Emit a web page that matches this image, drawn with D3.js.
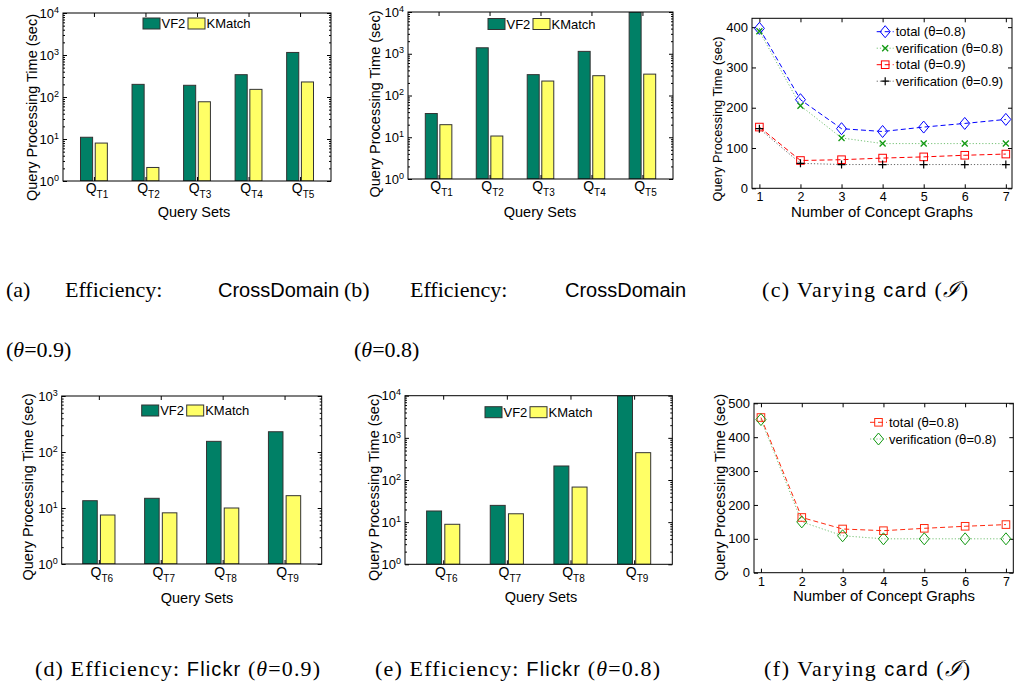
<!DOCTYPE html>
<html>
<head>
<meta charset="utf-8">
<script src="https://cdn.jsdelivr.net/npm/d3@7"></script>
<style>
body { margin: 0; background: #fff; }
svg text { font-family: "Liberation Sans", Arial, sans-serif; }
.cap { font-family: "Liberation Serif", "DejaVu Serif", serif; font-size: 22px; }
.sf { font-family: "Liberation Sans", Arial, sans-serif; }
</style>
</head>
<body>
<svg width="1017" height="693"></svg>
<script>
// bar charts (log scale, seconds)
var barSeries = ['VF2', 'KMatch'];
var barColors = ['#008066', '#ffff66'];
var crossCats = ['T1', 'T2', 'T3', 'T4', 'T5'];
var flickrCats = ['T6', 'T7', 'T8', 'T9'];
var vf2A = [11, 200, 190, 340, 1150];
var kmA  = [8, 2.1, 77, 152, 228];
var vf2B = [37, 1390, 316, 1140, 10000];
var kmB  = [20, 10.7, 222, 298, 325];
var vf2D = [13.5, 14.9, 155, 230];
var kmD  = [7.5, 8.2, 10, 16.6];
var vf2E = [18.4, 25, 215, 10000];
var kmE  = [8.9, 15.8, 68, 445];

// line charts (seconds vs number of concept graphs)
var graphs = [1, 2, 3, 4, 5, 6, 7];
var total08C = [397, 220, 148, 141, 152, 161, 171];
var verif08C = [390, 205, 125, 111, 111, 111, 111];
var total09C = [152, 69, 71, 75, 78, 82, 85];
var verif09C = [148, 62, 59, 59, 59, 59, 59];
var totalF = [458, 163, 129, 124, 131, 137, 142];
var verifF = [452, 150, 109, 100, 100, 100, 100];
var ticksC = [0, 100, 200, 300, 400];
var ticksF = [0, 100, 200, 300, 400, 500];

var svg = d3.select('svg');
var FONT = 'Liberation Sans, Arial, sans-serif';

function styleAxis(g) {
    g.attr('font-size', 13).attr('font-family', FONT);
    g.select('.domain').remove();
}

function frame(o) {
    svg.append('rect')
        .attr('x', o.x0).attr('y', o.y0)
        .attr('width', o.x1 - o.x0).attr('height', o.y1 - o.y0)
        .attr('fill', 'none').attr('stroke', '#000').attr('stroke-width', 1);
}

function yLabel(o, txt) {
    svg.append('text')
        .attr('transform', 'translate(' + o.ylx + ',' + o.yly + ') rotate(-90)')
        .attr('text-anchor', 'middle').attr('dy', '0.35em')
        .attr('font-size', o.ylsize || 14.5)
        .text(txt);
}

function xLabel(o, txt) {
    svg.append('text')
        .attr('x', o.xlx).attr('y', o.xly)
        .attr('text-anchor', 'middle')
        .attr('font-size', o.xlsize || 14.5)
        .text(txt);
}

function logPanel(o) {
    var n = o.cats.length;
    var pos = d3.range(1, n + 1);
    var x = d3.scaleLinear().domain(o.xd).range([o.x0, o.x1]);
    var y = d3.scaleLog().domain(o.yd).range([o.y1, o.y0]);

    var clip = 'clip-' + o.id;
    svg.append('clipPath').attr('id', clip).append('rect')
        .attr('x', o.x0).attr('y', o.y0)
        .attr('width', o.x1 - o.x0).attr('height', o.y1 - o.y0);

    var bw = 0.235, off = 0.143;
    var g = svg.append('g').attr('clip-path', 'url(#' + clip + ')');
    [o.vf2, o.km].forEach(function(vals, s) {
        g.selectAll('rect.s' + s)
            .data(vals)
            .enter()
            .append('rect')
            .attr('class', 's' + s)
            .attr('x', function(d, i) { return x(i + 1 + (s ? off : -off) - bw / 2); })
            .attr('width', x(bw) - x(0))
            .attr('y', function(d) { return y(d); })
            .attr('height', function(d) { return o.y1 - y(d); })
            .attr('fill', barColors[s])
            .attr('stroke', '#333')
            .attr('stroke-width', 1);
    });

    var all = y.ticks();
    var majors = all.filter(function(d) { return Math.abs(Math.log10(d) - Math.round(Math.log10(d))) < 1e-9; });
    var minors = all.filter(function(d) { return majors.indexOf(d) < 0; });

    var left = svg.append('g').attr('transform', 'translate(' + o.x0 + ',0)')
        .call(d3.axisLeft(y).tickValues(majors).tickSize(-4).tickSizeOuter(0).tickPadding(4))
        .call(styleAxis);
    left.selectAll('.tick text').each(function(d) {
        var t = d3.select(this).text('');
        t.append('tspan').text('10');
        t.append('tspan').attr('dy', '-0.55em').attr('font-size', 9).text(Math.round(Math.log10(d)));
    });
    svg.append('g').attr('transform', 'translate(' + o.x0 + ',0)')
        .call(d3.axisLeft(y).tickValues(minors).tickSize(-2).tickSizeOuter(0).tickFormat(''))
        .call(styleAxis);
    svg.append('g').attr('transform', 'translate(' + o.x1 + ',0)')
        .call(d3.axisRight(y).tickValues(majors).tickSize(-4).tickSizeOuter(0).tickFormat(''))
        .call(styleAxis);
    svg.append('g').attr('transform', 'translate(' + o.x1 + ',0)')
        .call(d3.axisRight(y).tickValues(minors).tickSize(-2).tickSizeOuter(0).tickFormat(''))
        .call(styleAxis);
    svg.append('g').attr('transform', 'translate(0,' + o.y1 + ')')
        .call(d3.axisBottom(x).tickValues(pos).tickSize(-4).tickSizeOuter(0).tickFormat(''))
        .call(styleAxis);
    svg.append('g').attr('transform', 'translate(0,' + o.y0 + ')')
        .call(d3.axisTop(x).tickValues(pos).tickSize(-4).tickSizeOuter(0).tickFormat(''))
        .call(styleAxis);

    frame(o);

    var ql = svg.selectAll('text.q' + o.id)
        .data(o.cats)
        .enter()
        .append('text')
        .attr('class', 'q' + o.id)
        .attr('x', function(d, i) { return x(i + 1) + 3; })
        .attr('y', o.y1 + o.qy)
        .attr('text-anchor', 'middle')
        .attr('font-size', 14);
    ql.append('tspan').text('Q');
    ql.append('tspan').attr('font-size', 10).attr('dy', 5).text(function(d) { return d; });

    // legend
    var lx = [o.x0 + 80, o.x0 + 125];
    barSeries.forEach(function(name, s) {
        svg.append('rect')
            .attr('x', lx[s]).attr('y', o.y0 + o.ly - 5.5)
            .attr('width', 17).attr('height', 11)
            .attr('fill', barColors[s]).attr('stroke', '#333');
        svg.append('text')
            .attr('x', lx[s] + 18.5).attr('y', o.y0 + o.ly + 4.5)
            .attr('font-size', 13)
            .text(name);
    });

    yLabel(o, 'Query Processing Time (sec)');
    xLabel(o, 'Query Sets');
}

function marker(g, type, cx, cy, color) {
    if (type === 'diamond') {
        g.append('path')
            .attr('d', 'M' + cx + ',' + (cy - 6) + 'L' + (cx + 5) + ',' + cy + 'L' + cx + ',' + (cy + 6) + 'L' + (cx - 5) + ',' + cy + 'Z')
            .attr('fill', 'none').attr('stroke', color).attr('stroke-width', 1);
    } else if (type === 'square') {
        g.append('rect')
            .attr('x', cx - 3.8).attr('y', cy - 3.8).attr('width', 7.6).attr('height', 7.6)
            .attr('fill', 'none').attr('stroke', color).attr('stroke-width', 1);
    } else if (type === 'x') {
        g.append('path')
            .attr('d', 'M' + (cx - 3) + ',' + (cy - 3) + 'L' + (cx + 3) + ',' + (cy + 3) + 'M' + (cx - 3) + ',' + (cy + 3) + 'L' + (cx + 3) + ',' + (cy - 3))
            .attr('stroke', color).attr('stroke-width', 1.3);
    } else if (type === 'plus') {
        g.append('path')
            .attr('d', 'M' + (cx - 4) + ',' + cy + 'L' + (cx + 4) + ',' + cy + 'M' + cx + ',' + (cy - 4) + 'L' + cx + ',' + (cy + 4))
            .attr('stroke', color).attr('stroke-width', 1.2);
    }
}

function linePanel(o) {
    var x = d3.scaleLinear().domain(o.xd).range([o.x0, o.x1]);
    var y = d3.scaleLinear().domain(o.yd).range([o.y1, o.y0]);

    svg.append('g').attr('transform', 'translate(' + o.x0 + ',0)')
        .call(d3.axisLeft(y).tickValues(o.yt).tickSize(-4).tickSizeOuter(0).tickPadding(4))
        .call(styleAxis);
    svg.append('g').attr('transform', 'translate(' + o.x1 + ',0)')
        .call(d3.axisRight(y).tickValues(o.yt).tickSize(-4).tickSizeOuter(0).tickFormat(''))
        .call(styleAxis);
    svg.append('g').attr('transform', 'translate(0,' + o.y1 + ')')
        .call(d3.axisBottom(x).tickValues(graphs).tickSize(-4).tickSizeOuter(0).tickPadding(4).tickFormat(d3.format('d')))
        .call(styleAxis)
        .attr('font-size', 12.5);
    svg.append('g').attr('transform', 'translate(0,' + o.y0 + ')')
        .call(d3.axisTop(x).tickValues(graphs).tickSize(-4).tickSizeOuter(0).tickFormat(''))
        .call(styleAxis);

    frame(o);

    var line = d3.line()
        .x(function(d, i) { return x(graphs[i]); })
        .y(function(d) { return y(d); });

    o.series.forEach(function(s) {
        svg.append('path')
            .datum(s.vals)
            .attr('d', line)
            .attr('fill', 'none')
            .attr('stroke', s.lineColor || s.color)
            .attr('stroke-width', s.dash === 'dot' ? 0.9 : 1)
            .attr('stroke-dasharray', s.dash === 'dot' ? '1.2,2' : '5,3');
    });
    o.series.forEach(function(s) {
        var g = svg.append('g');
        s.vals.forEach(function(d, i) { marker(g, s.marker, x(graphs[i]), y(d), s.color); });
    });

    // legend
    o.series.forEach(function(s, k) {
        var ly = o.leg.y + k * o.leg.dy;
        svg.append('line')
            .attr('x1', o.leg.x).attr('x2', o.leg.x + 17)
            .attr('y1', ly).attr('y2', ly)
            .attr('stroke', s.lineColor || s.color)
            .attr('stroke-width', s.dash === 'dot' ? 0.9 : 1)
            .attr('stroke-dasharray', s.dash === 'dot' ? '1.2,2' : '5,3');
        marker(svg.append('g'), s.marker, o.leg.x + 8.5, ly, s.color);
        var t = svg.append('text')
            .attr('x', o.leg.x + 19).attr('y', ly + 4.5)
            .attr('font-size', 13);
        t.append('tspan').text(s.name + ' (');
        t.append('tspan').attr('font-family', 'DejaVu Sans, sans-serif').attr('font-size', 12).text('θ');
        t.append('tspan').text('=' + s.theta + ')');
    });

    yLabel(o, 'Query Processing Time (sec)');
    xLabel(o, 'Number of Concept Graphs');
}

logPanel({ id: 'a', cats: crossCats, vf2: vf2A, km: kmA,
    x0: 63, x1: 331, y0: 13, y1: 181, xd: [0.4, 5.6], yd: [1, 1e4],
    qy: 12, ly: 10.5, ylx: 32, yly: 107.5, xlx: 194, xly: 217 });
logPanel({ id: 'b', cats: crossCats, vf2: vf2B, km: kmB,
    x0: 408, x1: 673, y0: 12, y1: 179, xd: [0.4, 5.6], yd: [1, 1e4],
    qy: 12, ly: 12, ylx: 375, yly: 104, xlx: 540, xly: 217 });
logPanel({ id: 'd', cats: flickrCats, vf2: vf2D, km: kmD,
    x0: 61.7, x1: 321.7, y0: 396, y1: 564, xd: [0.4, 4.6], yd: [1, 1e3],
    qy: 12.5, ly: 14.5, ylx: 28, yly: 487, xlx: 197, xly: 603 });
logPanel({ id: 'e', cats: flickrCats, vf2: vf2E, km: kmE,
    x0: 405, x1: 672.3, y0: 395.7, y1: 564.3, xd: [0.4, 4.6], yd: [1, 1e4],
    qy: 12.5, ly: 16.5, ylx: 374, yly: 487.5, xlx: 541, xly: 602 });

linePanel({ x0: 752, x1: 1012, y0: 18.3, y1: 188.3, xd: [0.82, 7.15], yd: [0, 422], yt: ticksC,
    ylx: 718, yly: 119, ylsize: 12.8, xlx: 882, xly: 217, xlsize: 14.9,
    leg: { x: 876.7, y: 31.7, dy: 16.5 },
    series: [
        { name: 'total', theta: '0.8', vals: total08C, color: '#0000ff', dash: 'dash', marker: 'diamond' },
        { name: 'verification', theta: '0.8', vals: verif08C, color: '#119911', lineColor: '#66bb66', dash: 'dot', marker: 'x' },
        { name: 'total', theta: '0.9', vals: total09C, color: '#ff0000', dash: 'dash', marker: 'square' },
        { name: 'verification', theta: '0.9', vals: verif09C, color: '#000000', lineColor: '#555555', dash: 'dot', marker: 'plus' }
    ] });
linePanel({ x0: 754, x1: 1013.3, y0: 403.3, y1: 572.7, xd: [0.83, 7.18], yd: [0, 500], yt: ticksF,
    ylx: 720, yly: 487.5, xlx: 884, xly: 601, xlsize: 14.9,
    leg: { x: 870, y: 422.3, dy: 16.7 },
    series: [
        { name: 'total', theta: '0.8', vals: totalF, color: '#ff2a10', dash: 'dash', marker: 'square' },
        { name: 'verification', theta: '0.8', vals: verifF, color: '#119911', lineColor: '#66bb66', dash: 'dot', marker: 'diamond' }
    ] });

// sub-figure captions
function cap(x, y, parts, len) {
    var t = svg.append('text').attr('class', 'cap').attr('x', x).attr('y', y);
    if (len) t.attr('textLength', len).attr('lengthAdjust', 'spacing');
    parts.forEach(function(p) {
        var s = t.append('tspan').text(p.t);
        if (p.sf) s.attr('class', 'sf').attr('font-size', 20);
        if (p.it) s.attr('font-style', 'italic');
    });
    return t;
}
cap(6, 297, [{ t: '(a)' }]);
cap(65, 297, [{ t: 'Efficiency:' }]);
cap(218, 297, [{ t: 'CrossDomain', sf: true }]);
cap(6, 357, [{ t: '(' }, { t: 'θ', it: true }, { t: '=0.9)' }]);
cap(344, 297, [{ t: '(b)' }]);
cap(410, 297, [{ t: 'Efficiency:' }]);
cap(565, 297, [{ t: 'CrossDomain', sf: true }]);
cap(354, 357, [{ t: '(' }, { t: 'θ', it: true }, { t: '=0.8)' }]);
cap(762, 297, [{ t: '(c) Varying ' }, { t: 'card', sf: true }, { t: ' (' }, { t: 'ℐ', it: true }, { t: ')' }], 206);
cap(35, 676, [{ t: '(d) Efficiency: ' }, { t: 'Flickr', sf: true }, { t: ' (' }, { t: 'θ', it: true }, { t: '=0.9)' }], 285);
cap(375, 676, [{ t: '(e) Efficiency: ' }, { t: 'Flickr', sf: true }, { t: ' (' }, { t: 'θ', it: true }, { t: '=0.8)' }], 285);
cap(764, 676, [{ t: '(f) Varying ' }, { t: 'card', sf: true }, { t: ' (' }, { t: 'ℐ', it: true }, { t: ')' }], 206);
</script>
</body>
</html>
